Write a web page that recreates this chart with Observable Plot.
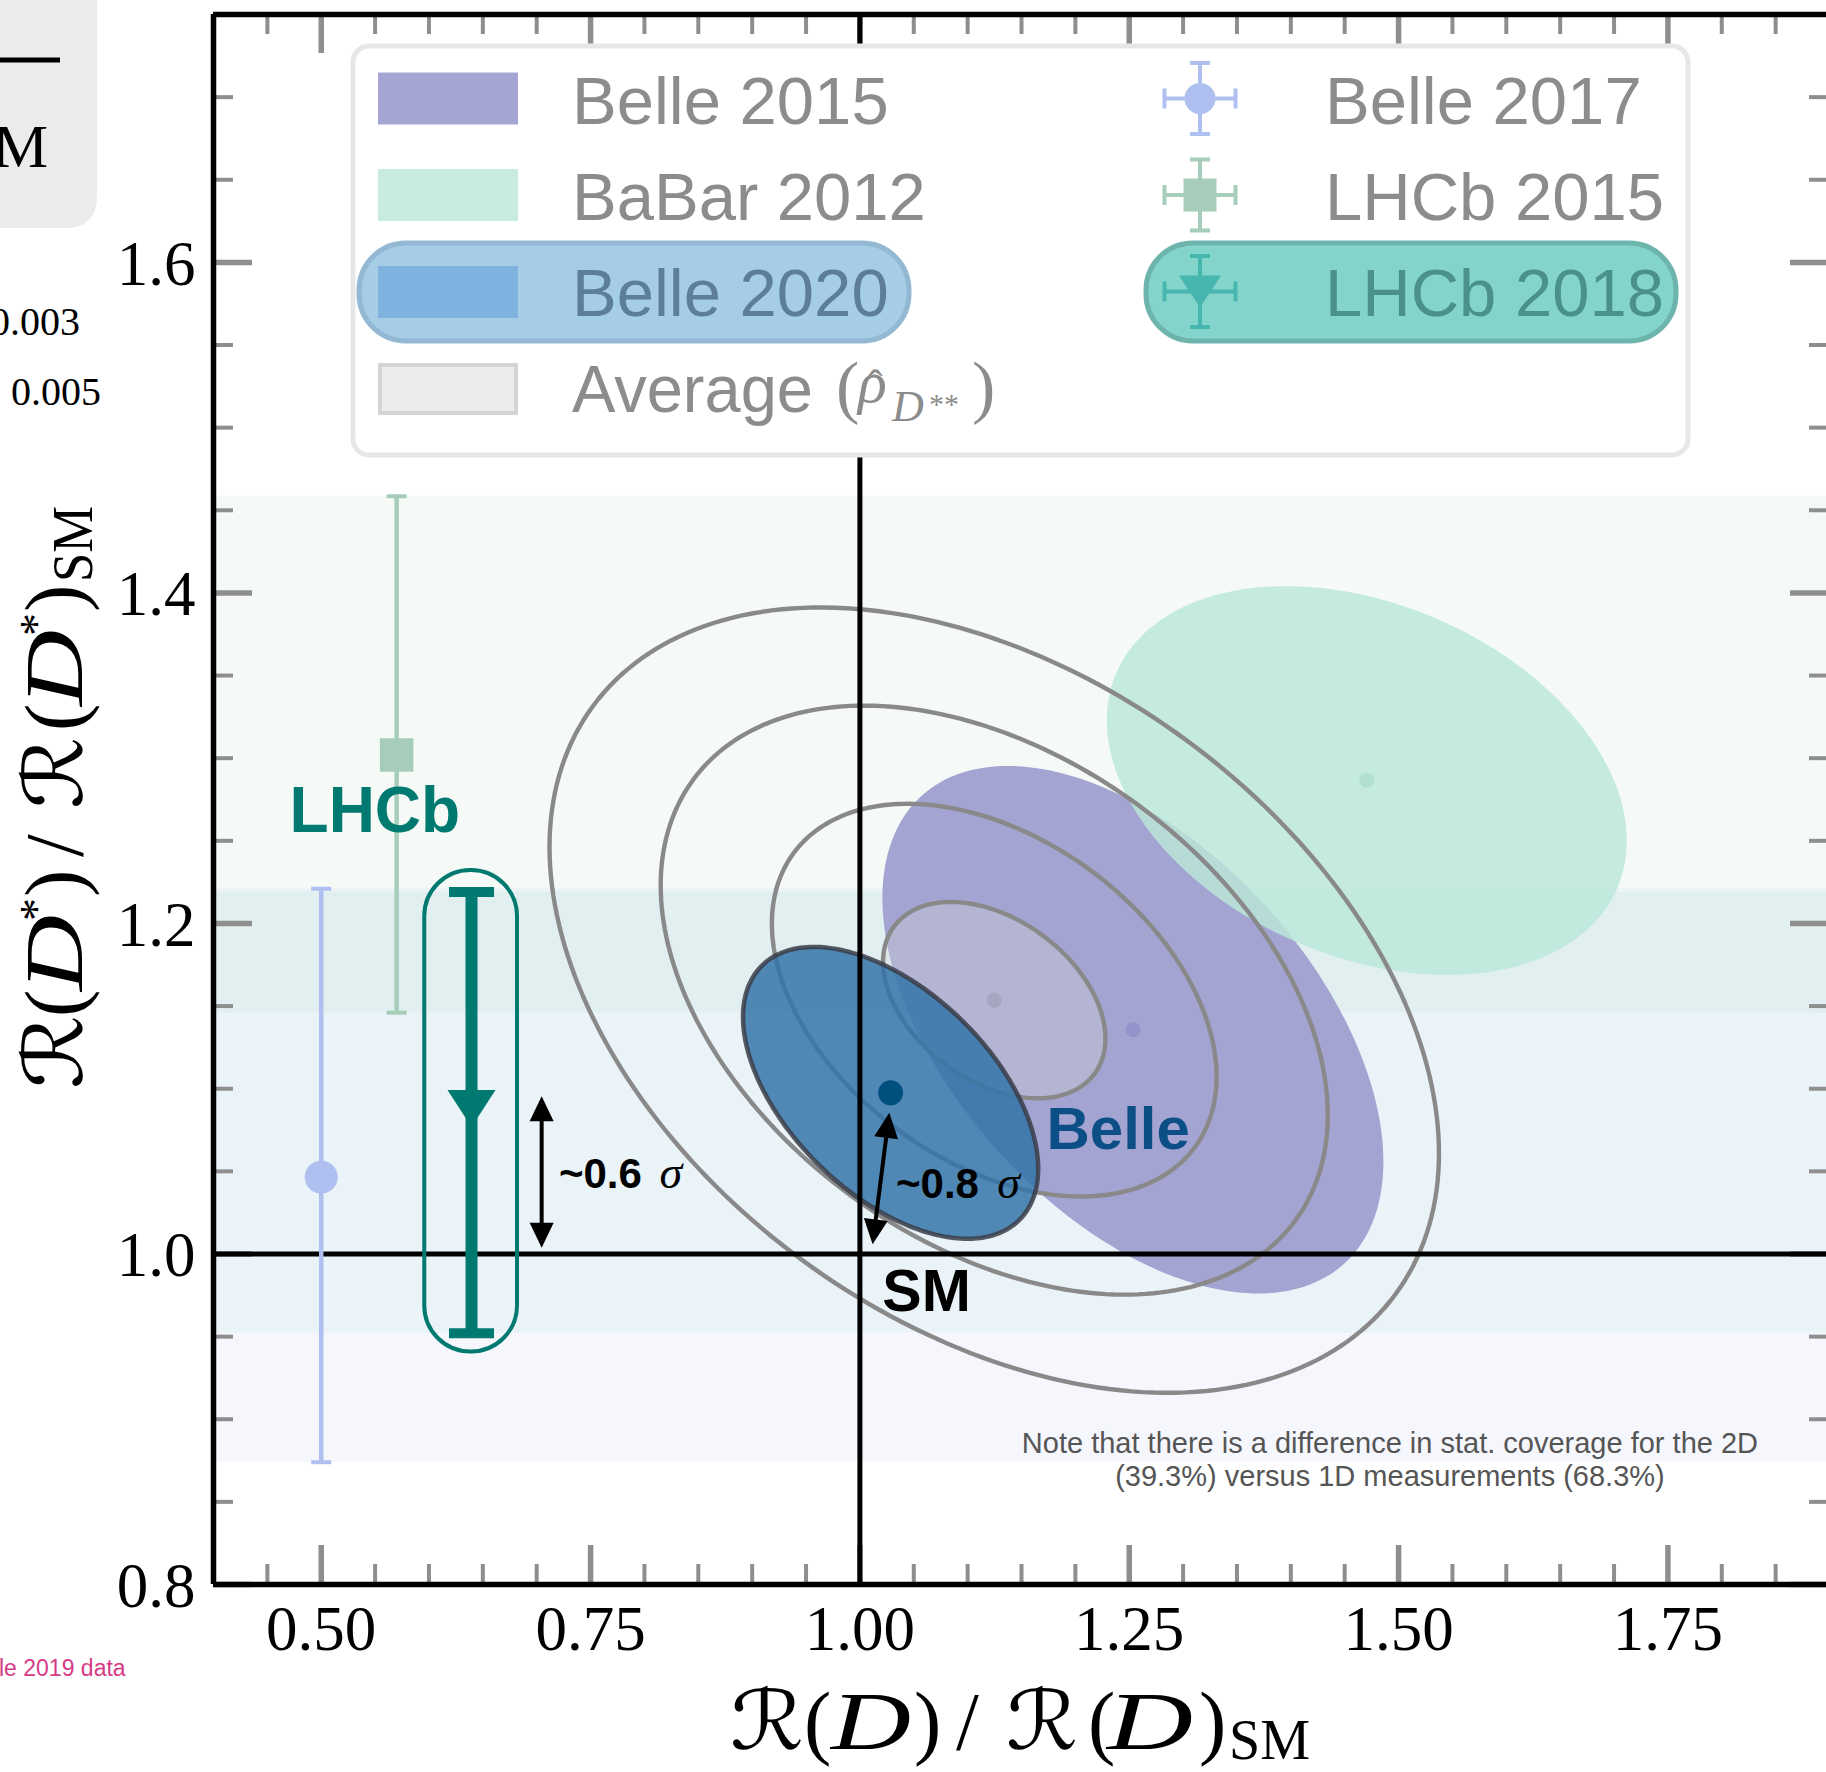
<!DOCTYPE html>
<html>
<head>
<meta charset="utf-8">
<script src="https://cdn.jsdelivr.net/npm/d3@7"></script>
<script src="https://cdn.jsdelivr.net/npm/@observablehq/plot@0.6"></script>
<style>
  html, body { margin: 0; padding: 0; background: #fff; overflow: hidden; }
  #chart { position: relative; width: 1829px; height: 1772px; overflow: hidden; }
  #chart svg { display: block; }
</style>
</head>
<body>
<div id="chart"></div>
<script>
// ---------------------------------------------------------------------------
// R(D) / R(D)_SM versus R(D*) / R(D*)_SM
// ---------------------------------------------------------------------------

// 2D measurements (1σ ellipses: centre, uncertainties, correlation)
const ellipseNames  = ["BaBar 2012", "Belle 2015", "Average", "Belle 2020"];
const ellipseRD     = [1.4705, 1.2534, 1.1247, 1.0285];
const ellipseRDs    = [1.2865, 1.1357, 1.1536, 1.0975];
const ellipseErrRD  = [0.2413, 0.2325, 0.1032, 0.1370];
const ellipseErrRDs = [0.1176, 0.1596, 0.0594, 0.0883];
const ellipseCorr   = [-0.31, -0.50, -0.39, -0.52];
// contour levels (in σ) drawn around the average
const averageLevels = [1, 2, 3, 4];

// 1D measurements of R(D*) only
const oneDNames = ["Belle 2017", "LHCb 2015", "LHCb 2018"];
const oneDX     = [0.500, 0.570, 0.6395];   // horizontal placement of the markers
const oneDValue = [1.0465, 1.302, 1.088];
const oneDLow   = [0.874, 1.146, 0.952];
const oneDHigh  = [1.221, 1.4585, 1.219];

// axis ticks
const xMajor = [0.50, 0.75, 1.00, 1.25, 1.50, 1.75];
const xMinor = [0.45, 0.55, 0.60, 0.65, 0.70, 0.80, 0.85, 0.90, 0.95, 1.05, 1.10, 1.15, 1.20,
                1.30, 1.35, 1.40, 1.45, 1.55, 1.60, 1.65, 1.70, 1.80, 1.85];
const yMajor = [0.8, 1.0, 1.2, 1.4, 1.6];
const yMinor = [0.85, 0.90, 0.95, 1.05, 1.10, 1.15, 1.25, 1.30, 1.35, 1.45, 1.50, 1.55, 1.65, 1.70];

// annotations
const labelText  = ["LHCb", "Belle", "SM"];
const labelX     = [0.4706, 1.1732, 1.0208];
const labelY     = [1.2554, 1.0636, 0.9655];
const labelColor = ["#007a70", "#0b4f86", "#000000"];
const labelSize  = [64, 60, 59];

const sigmaText = ["~0.6", "~0.8"];
const sigmaX    = [0.7206, 1.0335];
const sigmaSymX = [0.8140, 1.1275];
const sigmaY    = [1.0399, 1.0340];

// double-headed arrows (measurement to SM)
const arrowX1 = [0.7046, 1.0273], arrowY1 = [1.0955, 1.0854];
const arrowX2 = [0.7046, 1.0118], arrowY2 = [1.0038, 1.0059];

// box highlighting the LHCb 2018 measurement
const boxX1 = 0.5961, boxX2 = 0.6822, boxY1 = 0.9407, boxY2 = 1.232;

const noteLines = ["Note that there is a difference in stat. coverage for the 2D",
                   "(39.3%) versus 1D measurements (68.3%)"];
const noteX = 1.492, noteY = [0.8798, 0.8597];

// ---------------------------------------------------------------------------
const SANS  = "'Liberation Sans', Arial, Helvetica, sans-serif";
const SERIF = "'Liberation Serif', 'DejaVu Serif', 'Times New Roman', serif";
const SCRIPT = "'DejaVu Serif', 'DejaVu Sans', serif";

const W = 1829, H = 1772;
const M = {left: 213, top: 14, right: 0, bottom: 188};
const X_DOMAIN = [0.4, 1.9], Y_DOMAIN = [0.8, 1.75];
const plotW = W - M.left - M.right, plotH = H - M.top - M.bottom;
const sx = d3.scaleLinear(X_DOMAIN, [M.left, W - M.right]);
const sy = d3.scaleLinear(Y_DOMAIN, [H - M.bottom, M.top]);

const TICK = "#8e8e8e";
const oneDColor = ["#aebff0", "#a6cdb9", "#007a70"];
const bandColor = ["#aebff0", "#a6cdb9", "#47b5ae"];
const bandOpacity = [0.12, 0.11, 0.058];

// contour of a correlated Gaussian at k σ
function ellipse(i, k, n = 240) {
  const r = ellipseCorr[i], pts = [];
  for (let j = 0; j < n; ++j) {
    const t = 2 * Math.PI * j / n;
    pts.push({
      k,
      x: ellipseRD[i] + k * ellipseErrRD[i] * Math.cos(t),
      y: ellipseRDs[i] + k * ellipseErrRDs[i] * (r * Math.cos(t) + Math.sqrt(1 - r * r) * Math.sin(t))
    });
  }
  return pts;
}

// custom marker shapes
const capSymbol = w => ({draw(c) { c.moveTo(-w / 2, 0); c.lineTo(w / 2, 0); }});
const squareSymbol = s => ({draw(c) {
  c.moveTo(-s / 2, -s / 2); c.lineTo(s / 2, -s / 2); c.lineTo(s / 2, s / 2); c.lineTo(-s / 2, s / 2); c.closePath();
}});
const triDownSymbol = (w, h) => ({draw(c) {
  c.moveTo(-w / 2, -h / 2); c.lineTo(w / 2, -h / 2); c.lineTo(0, h / 2); c.closePath();
}});
const HEAD_LEN = 25, HEAD_HALF = 12;
const headSymbol = a => ({draw(c) {
  const ca = Math.cos(a), sa = Math.sin(a);
  const bx = -HEAD_LEN * ca, by = -HEAD_LEN * sa;
  c.moveTo(0, 0);
  c.lineTo(bx - HEAD_HALF * sa, by + HEAD_HALF * ca);
  c.lineTo(bx + HEAD_HALF * sa, by - HEAD_HALF * ca);
  c.closePath();
}});

const marks = [];

// 1D measurement bands
[0, 2, 1].forEach(i => {
  marks.push(Plot.rect([i], {y1: d => oneDLow[d], y2: d => oneDHigh[d], fill: bandColor[i], fillOpacity: bandOpacity[i]}));
});

// 2D measurement ellipses
marks.push(Plot.line(ellipse(1, 1), {x: "x", y: "y", curve: "linear-closed", fill: "#a4a4d2", stroke: "none"}));
marks.push(Plot.line(ellipse(0, 1), {x: "x", y: "y", curve: "linear-closed", fill: "#bae7d8", fillOpacity: 0.83, stroke: "none"}));
marks.push(Plot.line(ellipse(2, 1), {x: "x", y: "y", curve: "linear-closed", fill: "#d8d8d8", fillOpacity: 0.32, stroke: "none"}));
marks.push(Plot.line(averageLevels.flatMap(k => ellipse(2, k)),
  {x: "x", y: "y", z: "k", curve: "linear-closed", fill: "none", stroke: "#898989", strokeWidth: 4.4}));

const centreColor = ["#b2e0d0", "#9393c9", "#a6a6c0"];
[0, 1, 2].forEach(i => {
  marks.push(Plot.dot([i], {x: d => ellipseRD[d], y: d => ellipseRDs[d], r: 7.5, fill: centreColor[i], stroke: "none"}));
});

marks.push(Plot.line(ellipse(3, 1), {x: "x", y: "y", curve: "linear-closed",
  fill: "#3474a9", fillOpacity: 0.85, stroke: "#3a3d48", strokeOpacity: 0.85, strokeWidth: 4.5}));
marks.push(Plot.dot([3], {x: d => ellipseRD[d], y: d => ellipseRDs[d], r: 12.5, fill: "#00507f", stroke: "none"}));

// inward ticks on all four sides
const MAJ = 39, MIN = 20;
marks.push(Plot.tickX(xMajor, {x: d => d, insetTop: plotH - MAJ, stroke: TICK, strokeWidth: 5.5}));
marks.push(Plot.tickX(xMinor, {x: d => d, insetTop: plotH - MIN, stroke: TICK, strokeWidth: 4}));
marks.push(Plot.tickX(xMajor, {x: d => d, insetBottom: plotH - MAJ, stroke: TICK, strokeWidth: 5.5}));
marks.push(Plot.tickX(xMinor, {x: d => d, insetBottom: plotH - MIN, stroke: TICK, strokeWidth: 4}));
marks.push(Plot.tickY(yMajor, {y: d => d, insetRight: plotW - MAJ, stroke: TICK, strokeWidth: 5.5}));
marks.push(Plot.tickY(yMinor, {y: d => d, insetRight: plotW - MIN, stroke: TICK, strokeWidth: 4}));
marks.push(Plot.tickY(yMajor, {y: d => d, insetLeft: plotW - MAJ, stroke: TICK, strokeWidth: 5.5}));
marks.push(Plot.tickY(yMinor, {y: d => d, insetLeft: plotW - MIN, stroke: TICK, strokeWidth: 4}));

// SM reference lines
marks.push(Plot.ruleY([1.0], {y: d => d, stroke: "#000", strokeWidth: 5}));
marks.push(Plot.ruleX([1.0], {x: d => d, stroke: "#000", strokeWidth: 5}));

// 1D measurements: error bars and markers
const barWidth = [4.5, 4.5, 12], capWidth = [20, 20, 45], capThick = [4, 4, 10];
[0, 1, 2].forEach(i => {
  marks.push(Plot.ruleX([i], {x: d => oneDX[d], y1: d => oneDLow[d], y2: d => oneDHigh[d], stroke: oneDColor[i], strokeWidth: barWidth[i]}));
  marks.push(Plot.dot([oneDLow[i], oneDHigh[i]], {x: () => oneDX[i], y: d => d, r: 1,
    symbol: capSymbol(capWidth[i]), fill: "none", stroke: oneDColor[i], strokeWidth: capThick[i]}));
});
marks.push(Plot.dot([0], {x: d => oneDX[d], y: d => oneDValue[d], r: 16.5, fill: oneDColor[0], stroke: "none"}));
marks.push(Plot.dot([1], {x: d => oneDX[d], y: d => oneDValue[d], r: 1, symbol: squareSymbol(33.5), fill: oneDColor[1], stroke: "none"}));
marks.push(Plot.dot([2], {x: d => oneDX[d], y: d => oneDValue[d], r: 1, symbol: triDownSymbol(48, 37), fill: oneDColor[2], stroke: "none"}));
marks.push(Plot.rect([0], {x1: () => boxX1, x2: () => boxX2, y1: () => boxY1, y2: () => boxY2,
  rx: 46, ry: 46, fill: "none", stroke: "#007a70", strokeWidth: 4}));

// arrows
arrowX1.forEach((_, i) => {
  const p1 = [sx(arrowX1[i]), sy(arrowY1[i])], p2 = [sx(arrowX2[i]), sy(arrowY2[i])];
  const dx = p2[0] - p1[0], dy = p2[1] - p1[1], len = Math.hypot(dx, dy), ux = dx / len, uy = dy / len;
  const inset = HEAD_LEN * 0.7;
  const shaft = [
    {x: sx.invert(p1[0] + ux * inset), y: sy.invert(p1[1] + uy * inset)},
    {x: sx.invert(p2[0] - ux * inset), y: sy.invert(p2[1] - uy * inset)}
  ];
  marks.push(Plot.line(shaft, {x: "x", y: "y", stroke: "#000", strokeWidth: 4}));
  marks.push(Plot.dot([i], {x: d => arrowX1[d], y: d => arrowY1[d], r: 1, symbol: headSymbol(Math.atan2(-uy, -ux)), fill: "#000", stroke: "none"}));
  marks.push(Plot.dot([i], {x: d => arrowX2[d], y: d => arrowY2[d], r: 1, symbol: headSymbol(Math.atan2(uy, ux)), fill: "#000", stroke: "none"}));
});

// text annotations
labelText.forEach((_, i) => {
  marks.push(Plot.text([i], {x: d => labelX[d], y: d => labelY[d], text: d => labelText[d],
    textAnchor: "start", lineAnchor: "bottom", fontFamily: SANS, fontWeight: "bold", fontSize: labelSize[i], fill: labelColor[i]}));
});
sigmaText.forEach((_, i) => {
  marks.push(Plot.text([i], {x: d => sigmaX[d], y: d => sigmaY[d], text: d => sigmaText[d],
    textAnchor: "start", lineAnchor: "bottom", fontFamily: SANS, fontWeight: "bold", fontSize: 42, fill: "#000"}));
  marks.push(Plot.text([i], {x: d => sigmaSymX[d], y: d => sigmaY[d], text: () => "σ",
    textAnchor: "start", lineAnchor: "bottom", fontFamily: SERIF, fontStyle: "italic", fontSize: 46, fill: "#000"}));
});
noteLines.forEach((_, i) => {
  marks.push(Plot.text([i], {x: () => noteX, y: d => noteY[d], text: d => noteLines[d],
    textAnchor: "middle", lineAnchor: "bottom", fontFamily: SANS, fontSize: 29, fill: "#555"}));
});

// spines
marks.push(Plot.ruleX([X_DOMAIN[0]], {x: d => d, stroke: "#000", strokeWidth: 5.5}));
marks.push(Plot.ruleY([Y_DOMAIN[0], Y_DOMAIN[1]], {y: d => d, stroke: "#000", strokeWidth: 5.5}));

// tick labels
marks.push(Plot.text(xMajor, {x: d => d, frameAnchor: "bottom", dy: 45, text: d => d.toFixed(2),
  lineAnchor: "middle", fontFamily: SERIF, fontSize: 63, fill: "#000"}));
marks.push(Plot.text(yMajor, {y: d => d, frameAnchor: "left", dx: -18, dy: 2, text: d => d.toFixed(1),
  textAnchor: "end", lineAnchor: "middle", fontFamily: SERIF, fontSize: 63, fill: "#000"}));

const chart = Plot.plot({
  width: W, height: H,
  marginLeft: M.left, marginRight: M.right, marginTop: M.top, marginBottom: M.bottom,
  x: {domain: X_DOMAIN, axis: null},
  y: {domain: Y_DOMAIN, axis: null},
  style: {background: "#fff", maxWidth: "none", overflow: "hidden"},
  marks
});
document.getElementById("chart").appendChild(chart);

// ---------------------------------------------------------------------------
// legend, axis titles and neighbouring panel remnants
const svg = d3.select(chart);

const lg = svg.append("g").attr("text-anchor", "start");
lg.append("rect").attr("x", 353).attr("y", 46).attr("width", 1335).attr("height", 409).attr("rx", 16)
  .attr("fill", "#fff").attr("stroke", "#e7e7e7").attr("stroke-width", 5);
lg.append("rect").attr("x", 359).attr("y", 243).attr("width", 550).attr("height", 98).attr("rx", 47)
  .attr("fill", "#a6cde6").attr("stroke", "#92b8d3").attr("stroke-width", 5);
lg.append("rect").attr("x", 1146).attr("y", 243).attr("width", 530).attr("height", 98).attr("rx", 47)
  .attr("fill", "#83d4cb").attr("stroke", "#6db4ac").attr("stroke-width", 5);

const rowTop = [72.5, 169, 266, 363], rowBase = [123.5, 219.5, 316, 412];
const patchFill = ["#a5a5d3", "#c7ecdf", "#80b2e0", "#ececec"];
const leftNames = [ellipseNames[1], ellipseNames[0], ellipseNames[3]];
const leftTextColor = ["#8c8c8c", "#8c8c8c", "#5d7e97"];
patchFill.forEach((f, i) => {
  const r = lg.append("rect").attr("x", 378).attr("y", rowTop[i]).attr("width", 140).attr("height", 52).attr("fill", f);
  if (i === 3) r.attr("x", 380).attr("y", rowTop[i] + 2).attr("width", 136).attr("height", 48)
    .attr("stroke", "#d4d4d4").attr("stroke-width", 4);
});
leftNames.forEach((t, i) => {
  lg.append("text").attr("x", 572).attr("y", rowBase[i]).attr("font-family", SANS).attr("font-size", 67)
    .attr("fill", leftTextColor[i]).text(t);
});
lg.append("text").attr("x", 572).attr("y", rowBase[3]).attr("font-family", SANS).attr("font-size", 67)
  .attr("textLength", 241).attr("lengthAdjust", "spacingAndGlyphs")
  .attr("fill", "#8c8c8c").text("Average");
const avg = [
  {t: "(", x: 836, y: 410, s: 70, f: SERIF, st: "normal"},
  {t: "ρ", x: 858, y: 402, s: 60, f: SERIF, st: "italic"},
  {t: "ˆ", x: 868, y: 400, s: 44, f: SERIF, st: "normal"},
  {t: "D", x: 892, y: 421, s: 44, f: SERIF, st: "italic"},
  {t: "**", x: 929, y: 414, s: 30, f: SERIF, st: "normal"},
  {t: ")", x: 972, y: 410, s: 70, f: SERIF, st: "normal"}
];
avg.forEach(p => lg.append("text").attr("x", p.x).attr("y", p.y).attr("font-family", p.f)
  .attr("font-style", p.st).attr("font-size", p.s).attr("fill", "#8c8c8c").text(p.t));

const rightText = ["#8c8c8c", "#8c8c8c", "#4a918b"];
const rightMark = ["#aebff0", "#a6cdb9", "#47b6ae"];
const rowMid = [98.5, 195, 291.5], MX = 1200, EH = 35.5;
oneDNames.forEach((t, i) => {
  const g = lg.append("g").attr("stroke", rightMark[i]).attr("stroke-width", 4);
  const cy = rowMid[i];
  g.append("line").attr("x1", MX).attr("x2", MX).attr("y1", cy - EH).attr("y2", cy + EH);
  g.append("line").attr("x1", MX - EH).attr("x2", MX + EH).attr("y1", cy).attr("y2", cy);
  [-EH, EH].forEach(o => {
    g.append("line").attr("x1", MX - 10).attr("x2", MX + 10).attr("y1", cy + o).attr("y2", cy + o);
    g.append("line").attr("x1", MX + o).attr("x2", MX + o).attr("y1", cy - 10).attr("y2", cy + 10);
  });
  if (i === 0) g.append("circle").attr("cx", MX).attr("cy", cy).attr("r", 15.5).attr("fill", rightMark[i]).attr("stroke", "none");
  if (i === 1) g.append("rect").attr("x", MX - 16.5).attr("y", cy - 16.5).attr("width", 33).attr("height", 33).attr("fill", rightMark[i]).attr("stroke", "none");
  if (i === 2) g.append("path").attr("d", `M${MX - 21},${cy - 16}L${MX + 21},${cy - 16}L${MX},${cy + 16}Z`).attr("fill", rightMark[i]).attr("stroke", "none");
  lg.append("text").attr("x", 1325).attr("y", rowBase[i]).attr("font-family", SANS).attr("font-size", 67)
    .attr("fill", rightText[i]).text(t);
});

// axis titles (calligraphic R, italic D); w stretches a glyph to the given advance
function mathTitle(g, pieces) {
  pieces.forEach(p => {
    const t = g.append("text").attr("x", p.x).attr("y", p.y || 0)
      .attr("font-family", p.f || SERIF).attr("font-style", p.st || "normal")
      .attr("font-size", p.s || 82).attr("fill", "#000").text(p.t);
    if (p.w) t.attr("textLength", p.w).attr("lengthAdjust", "spacingAndGlyphs");
  });
}
const xt = svg.append("g").attr("text-anchor", "start").attr("transform", "translate(730,1749)");
mathTitle(xt, [
  {t: "ℛ", x: 0, f: SCRIPT, w: 74}, {t: "(", x: 74}, {t: "D", x: 101, st: "italic", w: 80}, {t: ")", x: 184},
  {t: "/", x: 226}, {t: "ℛ", x: 276, f: SCRIPT, w: 72}, {t: "(", x: 358}, {t: "D", x: 377, st: "italic", w: 86},
  {t: ")", x: 469}, {t: "SM", x: 499, y: 10, s: 56, w: 81}
]);
const yt = svg.append("g").attr("text-anchor", "start").attr("transform", "translate(82,1089) rotate(-90)");
mathTitle(yt, [
  {t: "ℛ", x: 0, f: SCRIPT, w: 74}, {t: "(", x: 72}, {t: "D", x: 98, st: "italic", w: 76}, {t: "*", x: 168, y: -30, s: 46},
  {t: ")", x: 192}, {t: "/", x: 232}, {t: "ℛ", x: 280, f: SCRIPT, w: 72}, {t: "(", x: 358}, {t: "D", x: 383, st: "italic", w: 76},
  {t: "*", x: 453, y: -30, s: 46}, {t: ")", x: 477}, {t: "SM", x: 507, y: 10, s: 56, w: 76}
]);

// remnants of the neighbouring panel on the left edge
const side = svg.append("g").attr("text-anchor", "start");
side.append("path").attr("d", "M0,0H97V196Q97,228 65,228H0Z").attr("fill", "#ebebeb");
side.append("rect").attr("x", 0).attr("y", 57.5).attr("width", 60).attr("height", 5).attr("fill", "#000");
side.append("text").attr("x", -7).attr("y", 167).attr("font-family", SERIF).attr("font-size", 62).attr("fill", "#000").text("M");
side.append("text").attr("x", -10).attr("y", 335).attr("font-family", SERIF).attr("font-size", 40).attr("fill", "#000").text("0.003");
side.append("text").attr("x", 11).attr("y", 405).attr("font-family", SERIF).attr("font-size", 40).attr("fill", "#000").text("0.005");
side.append("text").attr("x", -1).attr("y", 1676).attr("font-family", SANS).attr("font-size", 23).attr("fill", "#d63a86").text("le 2019 data");
</script>
</body>
</html>
